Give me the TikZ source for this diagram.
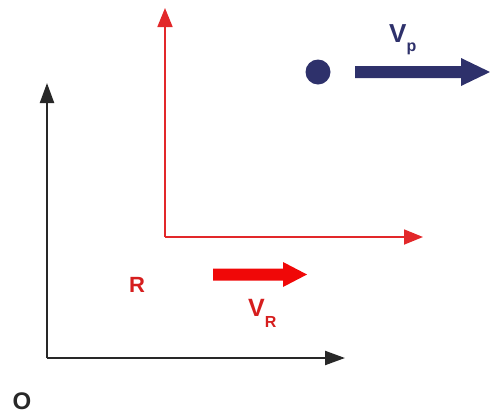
\documentclass[tikz,border=0pt]{standalone}
\usepackage{fontspec}
\setmainfont{Liberation Sans}
\usetikzlibrary{arrows.meta}
\definecolor{navy}{RGB}{46,49,107}
\definecolor{axred}{RGB}{226,40,42}
\definecolor{arrred}{RGB}{240,8,8}
\definecolor{txtred}{RGB}{214,30,30}
\definecolor{axblack}{RGB}{40,40,40}
\tikzset{
  blackaxis/.style={draw=axblack, line width=2.2pt, -{Triangle[length=20pt,width=14pt]}},
  redaxis/.style={draw=axred, line width=1.8pt, -{Triangle[length=19pt,width=15pt]}},
  lbl/.style={font=\bfseries\fontsize{22}{22}\selectfont, inner sep=0pt},
}
\begin{document}
\begin{tikzpicture}[x=1pt,y=-1pt]
\useasboundingbox (0,0) rectangle (490,413);
% black frame
\coordinate (o) at (47,358);
\coordinate (ox) at (345,358);
\coordinate (oy) at (47,83);
\draw[blackaxis] (o) -- (ox);
\draw[blackaxis] (o) -- (oy);
% red frame
\coordinate (r) at (165,237);
\coordinate (rx) at (423,237);
\coordinate (ry) at (165,8);
\draw[redaxis] (r) -- (rx);
\draw[redaxis] (r) -- (ry);
% red thick arrow
\fill[arrred] (213,268.5) -- (283,268.5) -- (283,262) -- (307,274.5) -- (283,287) -- (283,280.5) -- (213,280.5) -- cycle;
% blue dot and thick arrow
\fill[navy] (318,72) circle (12.5);
\fill[navy] (355,66) -- (461,66) -- (461,58) -- (490,72) -- (461,86) -- (461,78) -- (355,78) -- cycle;
% labels
\node[lbl, text=axblack, font=\bfseries\fontsize{24}{24}\selectfont] (O) at (22,401) {O};
\node[lbl, text=txtred] (R) at (137,285) {R};
\node[lbl, text=txtred, anchor=base west, font=\bfseries\fontsize{25}{25}\selectfont] (VR) at (248,316.5) {V\raisebox{-11pt}{\fontsize{16}{16}\selectfont R}};
\node[lbl, text=navy, anchor=base west, font=\bfseries\fontsize{26}{26}\selectfont] (VP) at (389,42) {V\raisebox{-9pt}{\fontsize{16}{16}\selectfont p}};
\end{tikzpicture}
\end{document}
